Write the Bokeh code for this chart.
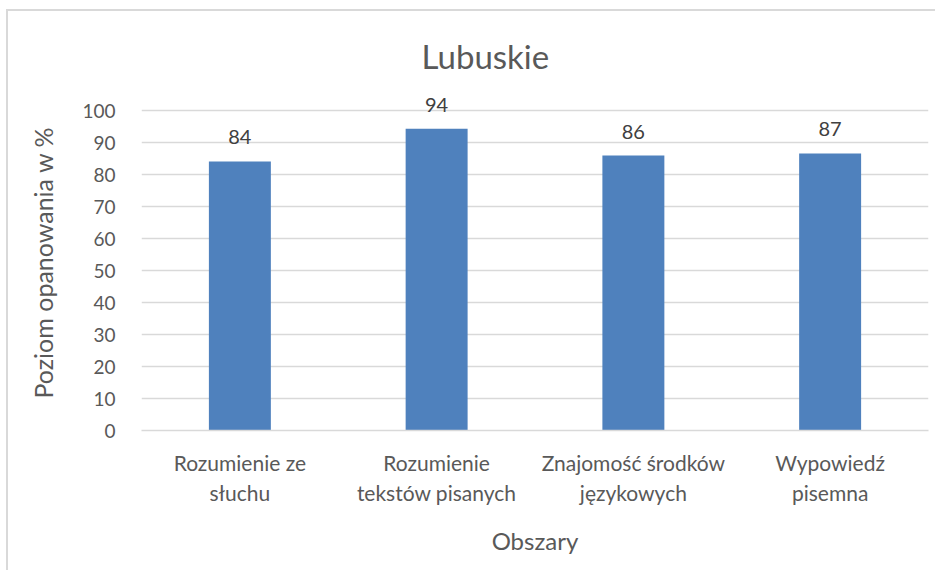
from bokeh.plotting import figure
from bokeh.models import ColumnDataSource, LabelSet, Range1d, FactorRange, SingleIntervalTicker
from bokeh.core.properties import value
from bokeh.embed import file_html
from bokeh.resources import INLINE

categories = ["Rozumienie ze\nsłuchu", "Rozumienie\ntekstów pisanych",
              "Znajomość środków\njęzykowych", "Wypowiedź\npisemna"]
values = [84.1, 94.3, 85.9, 86.6]
labels = ["84", "94", "86", "87"]

FONT = "Lato"
TXT = "#595959"
GRID = "#d9d9d9"

src = ColumnDataSource(dict(cat=categories, val=values, lab=labels))

p = figure(width=929, height=561, x_range=FactorRange(*categories),
           y_range=Range1d(0, 105), output_backend="svg", toolbar_location=None,
           min_border_left=133, min_border_right=9, min_border_top=83,
           min_border_bottom=142, title="Lubuskie")

p.vbar(x="cat", top="val", width=0.315, source=src, color="#4f81bd", line_color=None)

p.add_layout(LabelSet(x="cat", y="val", text="lab", source=src, y_offset=24,
                      text_align="center", text_baseline="middle",
                      text_font=value(FONT), text_font_size=value("20px"),
                      text_color="#404040"))

p.title.text_font = FONT
p.title.text_font_size = "33px"
p.title.text_font_style = "normal"
p.title.text_color = TXT
p.title.align = "left"
p.title.offset = 280
p.title.standoff = 37

p.outline_line_color = None
p.xgrid.grid_line_color = None
p.ygrid.grid_line_color = GRID
p.ygrid.grid_line_width = 1.5

p.yaxis.ticker = SingleIntervalTicker(interval=10)
p.yaxis.bounds = (0, 100)
p.yaxis.axis_line_color = None
p.yaxis.major_tick_line_color = None
p.yaxis.minor_tick_line_color = None
p.yaxis.major_label_text_font = FONT
p.yaxis.major_label_text_font_size = "19px"
p.yaxis.major_label_text_color = TXT
p.yaxis.major_label_standoff = 20
p.yaxis.axis_label = "Poziom opanowania w %"
p.yaxis.axis_label_text_font = FONT
p.yaxis.axis_label_text_font_size = "25px"
p.yaxis.axis_label_text_font_style = "normal"
p.yaxis.axis_label_text_color = TXT
p.yaxis.axis_label_standoff = 21

p.xaxis.axis_line_color = GRID
p.xaxis.axis_line_width = 1.5
p.xaxis.major_tick_line_color = None
p.xaxis.minor_tick_line_color = None
p.xaxis.major_label_text_font = FONT
p.xaxis.major_label_text_font_size = "21px"
p.xaxis.major_label_text_color = TXT
p.xaxis.major_label_standoff = 13
p.xaxis.axis_label = "Obszary"
p.xaxis.axis_label_text_font = FONT
p.xaxis.axis_label_text_font_size = "24px"
p.xaxis.axis_label_text_font_style = "normal"
p.xaxis.axis_label_text_color = TXT
p.xaxis.axis_label_standoff = 18

p.styles = {"border-left": "2px solid #d9d9d9", "border-top": "2px solid #d9d9d9",
            "margin-top": "9px", "margin-left": "6px"}

open("out.html", "w").write(file_html(p, INLINE))
